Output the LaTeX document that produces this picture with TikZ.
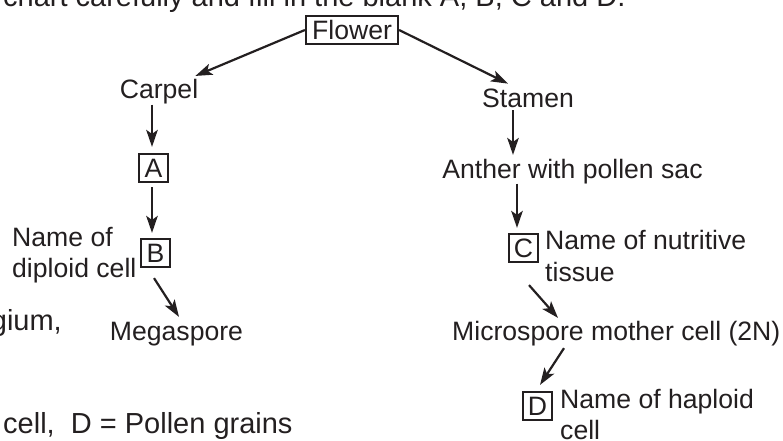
\documentclass[tikz,border=0pt]{standalone}
\usepackage{fontspec}
\setmainfont{Liberation Sans}
\usetikzlibrary{arrows.meta,calc}
\definecolor{ink}{HTML}{231F20}
\begin{document}
\begin{tikzpicture}[x=1pt,y=-1pt,
  lbl/.style={inner sep=0pt, font=\fontsize{26.6pt}{31pt}\selectfont, text=ink},
  qtext/.style={inner sep=0pt, font=\fontsize{29pt}{34pt}\selectfont, text=ink},
  boxed/.style={lbl, draw=ink, line width=2.2pt, minimum width=92pt, minimum height=28pt},
  letter/.style={lbl, draw=ink, line width=2.2pt, minimum width=29pt, minimum height=28pt},
  arr/.style={draw=ink, line width=2.2pt, -{Stealth[length=17pt,width=11.5pt,inset=4pt]}}]
\clip (0,0) rectangle (783,440);
\node[qtext, anchor=base west] (question) at (3,6) {chart carefully and fill in the blank A, B, C and D.};
\node[boxed] (flower) at (352,30) {Flower};
\node[lbl, anchor=base] (carpel) at (159,98) {Carpel};
\node[lbl, anchor=base] (stamen) at (528,107) {Stamen};
\node[letter] (a) at (153.5,168) {A};
\node[letter] (b) at (155.5,253) {B};
\node[lbl, anchor=base west] (name1) at (12,246) {Name of};
\node[lbl, anchor=base west] (name2) at (12,277) {diploid cell};
\node[lbl, anchor=base] (mega) at (176.5,340) {Megaspore};
\node[qtext, anchor=base east] (gium) at (62,330) {gium,};
\node[qtext, anchor=base west] (answer) at (3,433) {cell,\ \ D = Pollen grains};
\node[lbl, anchor=base] (anther) at (572.5,178) {Anther with pollen sac};
\node[letter] (c) at (523.5,248) {C};
\node[lbl, anchor=base west] (nut1) at (545,249) {Name of nutritive};
\node[lbl, anchor=base west] (nut2) at (545,281) {tissue};
\node[lbl, anchor=base west] (micro) at (452,340) {Microspore mother cell (2N)};
\node[letter] (d) at (537.5,406) {D};
\node[lbl, anchor=base west] (hap1) at (560,408) {Name of haploid};
\node[lbl, anchor=base west] (hap2) at (560,439) {cell};
\draw[arr] (flower.west) -- ($(carpel.north east)+(-3pt,2.6pt)$);
\draw[arr] (flower.east) -- ($(stamen.north west)+(26pt,4.6pt)$);
\draw[arr] ($(carpel.south)+(-7pt,-1pt)$) -- ($(a.north)+(-1.5pt,6pt)$);
\draw[arr] ($(a.south)+(-1.5pt,-4pt)$) -- ($(b.north)+(-3.5pt,5pt)$);
\draw[arr] ($(b.south)+(-1.5pt,-10pt)$) -- ($(mega.north)+(2.5pt,4.6pt)$);
\draw[arr] ($(stamen.south)+(-15pt,-3pt)$) -- ($(anther.north)+(-59.5pt,3.6pt)$);
\draw[arr] ($(anther.south)+(-55.5pt,0pt)$) -- ($(c.north)+(-6.5pt,5pt)$);
\draw[arr] ($(c.south)+(5.5pt,-22pt)$) -- ($(micro.north west)+(106pt,2.6pt)$);
\draw[arr] ($(micro.south west)+(112pt,-2.4pt)$) -- ($(d.north)+(2.5pt,6pt)$);
\end{tikzpicture}
\end{document}
